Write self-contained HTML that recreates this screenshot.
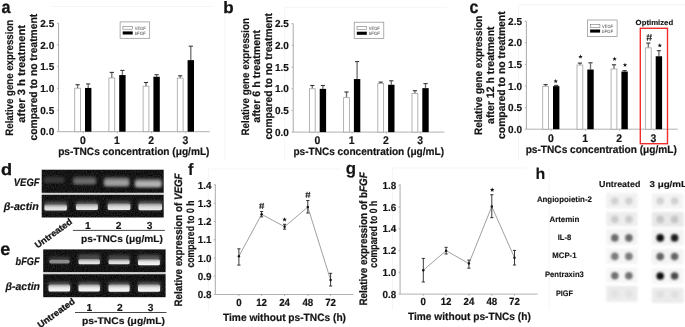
<!DOCTYPE html><html><head><meta charset="utf-8"><style>html,body{margin:0;padding:0;background:#fff;}svg{display:block;}text{font-family:"Liberation Sans",sans-serif;text-rendering:geometricPrecision;}text[font-weight="bold"]{stroke:#141414;stroke-linejoin:round;}</style></head><body>
<svg width="685" height="327" viewBox="0 0 685 327">
<defs><filter id="bl" x="-50%" y="-50%" width="200%" height="200%"><feGaussianBlur stdDeviation="1.2"/></filter><filter id="bl2" x="-50%" y="-50%" width="200%" height="200%"><feGaussianBlur stdDeviation="0.9"/></filter><filter id="gb" x="0" y="0" width="100%" height="100%" filterUnits="userSpaceOnUse" color-interpolation-filters="sRGB"><feGaussianBlur stdDeviation="0.35"/></filter><filter id="bh" x="-50%" y="-50%" width="200%" height="200%" color-interpolation-filters="sRGB"><feGaussianBlur stdDeviation="1.4"/></filter><filter id="bc" x="-50%" y="-50%" width="200%" height="200%" color-interpolation-filters="sRGB"><feGaussianBlur stdDeviation="0.7"/></filter><filter id="gn3" x="0" y="0" width="1" height="1" color-interpolation-filters="sRGB"><feTurbulence type="fractalNoise" baseFrequency="0.9" numOctaves="2" seed="3"/><feColorMatrix type="matrix" values="0.25 0 0 0 -0.045  0.25 0 0 0 -0.045  0.25 0 0 0 -0.045  0 0 0 0 1"/><feComposite in2="SourceGraphic" operator="in"/></filter><filter id="gn4" x="0" y="0" width="1" height="1" color-interpolation-filters="sRGB"><feTurbulence type="fractalNoise" baseFrequency="0.9" numOctaves="2" seed="4"/><feColorMatrix type="matrix" values="0.25 0 0 0 -0.045  0.25 0 0 0 -0.045  0.25 0 0 0 -0.045  0 0 0 0 1"/><feComposite in2="SourceGraphic" operator="in"/></filter><filter id="gn5" x="0" y="0" width="1" height="1" color-interpolation-filters="sRGB"><feTurbulence type="fractalNoise" baseFrequency="0.9" numOctaves="2" seed="5"/><feColorMatrix type="matrix" values="0.25 0 0 0 -0.045  0.25 0 0 0 -0.045  0.25 0 0 0 -0.045  0 0 0 0 1"/><feComposite in2="SourceGraphic" operator="in"/></filter><filter id="gn6" x="0" y="0" width="1" height="1" color-interpolation-filters="sRGB"><feTurbulence type="fractalNoise" baseFrequency="0.9" numOctaves="2" seed="6"/><feColorMatrix type="matrix" values="0.25 0 0 0 -0.045  0.25 0 0 0 -0.045  0.25 0 0 0 -0.045  0 0 0 0 1"/><feComposite in2="SourceGraphic" operator="in"/></filter><linearGradient id="cg" x1="0" y1="0" x2="0" y2="1"><stop offset="0" stop-color="#9a9a9a"/><stop offset="0.45" stop-color="#e6e6e6"/><stop offset="1" stop-color="#fbfbfb"/></linearGradient><linearGradient id="cg2" x1="0" y1="0" x2="0" y2="1"><stop offset="0" stop-color="#8a8a8a"/><stop offset="0.5" stop-color="#d6d6d6"/><stop offset="1" stop-color="#ececec"/></linearGradient><filter id="bl3" x="-50%" y="-50%" width="200%" height="200%"><feGaussianBlur stdDeviation="0.9"/></filter></defs>
<g filter="url(#gb)">
<rect width="685" height="327" fill="#fff"/>
<line x1="51" y1="6.5" x2="212" y2="6.5" stroke="#f4f4f4" stroke-width="0.9"/>
<line x1="224.8" y1="15" x2="224.8" y2="160" stroke="#f4f4f4" stroke-width="0.9"/>
<line x1="285" y1="7.3" x2="447" y2="7.3" stroke="#f4f4f4" stroke-width="0.9"/>
<line x1="284.6" y1="7.3" x2="284.6" y2="160" stroke="#f4f4f4" stroke-width="0.9"/>
<line x1="518.5" y1="4.8" x2="685" y2="4.8" stroke="#f4f4f4" stroke-width="0.9"/>
<line x1="518.5" y1="4.8" x2="518.5" y2="160" stroke="#f4f4f4" stroke-width="0.9"/>
<line x1="208.3" y1="169" x2="341" y2="169" stroke="#f4f4f4" stroke-width="0.9"/>
<line x1="208.3" y1="169" x2="208.3" y2="310" stroke="#f4f4f4" stroke-width="0.9"/>
<line x1="392.5" y1="168" x2="527" y2="168" stroke="#f4f4f4" stroke-width="0.9"/>
<line x1="392.5" y1="168" x2="392.5" y2="310" stroke="#f4f4f4" stroke-width="0.9"/>
<line x1="549.2" y1="169" x2="549.2" y2="310" stroke="#f4f4f4" stroke-width="0.9"/>
<line x1="58.6" y1="23.2" x2="58.6" y2="131.7" stroke="#a0a0a0" stroke-width="0.9"/>
<line x1="57.0" y1="131.7" x2="58.6" y2="131.7" stroke="#a0a0a0" stroke-width="0.8"/>
<text x="54.2" y="135.29999999999998" font-size="10.1" font-weight="bold" text-anchor="end" textLength="13.9" lengthAdjust="spacingAndGlyphs" fill="#141414" stroke-width="0.182">0.0</text>
<line x1="57.0" y1="110.0" x2="58.6" y2="110.0" stroke="#a0a0a0" stroke-width="0.8"/>
<text x="54.2" y="113.6" font-size="10.1" font-weight="bold" text-anchor="end" textLength="13.9" lengthAdjust="spacingAndGlyphs" fill="#141414" stroke-width="0.182">0.5</text>
<line x1="57.0" y1="88.3" x2="58.6" y2="88.3" stroke="#a0a0a0" stroke-width="0.8"/>
<text x="54.2" y="91.89999999999999" font-size="10.1" font-weight="bold" text-anchor="end" textLength="13.9" lengthAdjust="spacingAndGlyphs" fill="#141414" stroke-width="0.182">1.0</text>
<line x1="57.0" y1="66.6" x2="58.6" y2="66.6" stroke="#a0a0a0" stroke-width="0.8"/>
<text x="54.2" y="70.19999999999999" font-size="10.1" font-weight="bold" text-anchor="end" textLength="13.9" lengthAdjust="spacingAndGlyphs" fill="#141414" stroke-width="0.182">1.5</text>
<line x1="57.0" y1="44.900000000000006" x2="58.6" y2="44.900000000000006" stroke="#a0a0a0" stroke-width="0.8"/>
<text x="54.2" y="48.50000000000001" font-size="10.1" font-weight="bold" text-anchor="end" textLength="13.9" lengthAdjust="spacingAndGlyphs" fill="#141414" stroke-width="0.182">2.0</text>
<line x1="57.0" y1="23.200000000000017" x2="58.6" y2="23.200000000000017" stroke="#a0a0a0" stroke-width="0.8"/>
<text x="54.2" y="26.80000000000002" font-size="10.1" font-weight="bold" text-anchor="end" textLength="13.9" lengthAdjust="spacingAndGlyphs" fill="#141414" stroke-width="0.182">2.5</text>
<line x1="58.6" y1="131.7" x2="209.8" y2="131.7" stroke="#a8a8a8" stroke-width="0.9"/>
<line x1="83.2" y1="131.7" x2="83.2" y2="133.29999999999998" stroke="#a0a0a0" stroke-width="0.8"/>
<text x="82.8" y="143.9" font-size="11.0" font-weight="bold" text-anchor="middle" textLength="5.8" lengthAdjust="spacingAndGlyphs" fill="#141414" stroke-width="0.198">0</text>
<line x1="117.4" y1="131.7" x2="117.4" y2="133.29999999999998" stroke="#a0a0a0" stroke-width="0.8"/>
<text x="117.0" y="143.9" font-size="11.0" font-weight="bold" text-anchor="middle" textLength="5.8" lengthAdjust="spacingAndGlyphs" fill="#141414" stroke-width="0.198">1</text>
<line x1="151.6" y1="131.7" x2="151.6" y2="133.29999999999998" stroke="#a0a0a0" stroke-width="0.8"/>
<text x="151.2" y="143.9" font-size="11.0" font-weight="bold" text-anchor="middle" textLength="5.8" lengthAdjust="spacingAndGlyphs" fill="#141414" stroke-width="0.198">2</text>
<line x1="185.8" y1="131.7" x2="185.8" y2="133.29999999999998" stroke="#a0a0a0" stroke-width="0.8"/>
<text x="185.4" y="143.9" font-size="11.0" font-weight="bold" text-anchor="middle" textLength="5.8" lengthAdjust="spacingAndGlyphs" fill="#141414" stroke-width="0.198">3</text>
<line x1="77.6" y1="84.7" x2="77.6" y2="88.25" stroke="#6e6e6e" stroke-width="1.3"/>
<line x1="75.5" y1="84.7" x2="79.69999999999999" y2="84.7" stroke="#333" stroke-width="1.1"/>
<rect x="74.7" y="88.25" width="5.800000000000009" height="43.44999999999999" fill="#fff" stroke="#a6a6a6" stroke-width="0.85"/>
<line x1="88.2" y1="83.9" x2="88.2" y2="87.95" stroke="#6e6e6e" stroke-width="1.3"/>
<line x1="86.10000000000001" y1="83.9" x2="90.3" y2="83.9" stroke="#3a3a3a" stroke-width="1.1"/>
<rect x="85.0" y="87.95" width="6.400000000000006" height="43.749999999999986" fill="#000"/>
<line x1="111.80000000000001" y1="72.4" x2="111.80000000000001" y2="77.94999999999999" stroke="#6e6e6e" stroke-width="1.3"/>
<line x1="109.70000000000002" y1="72.4" x2="113.9" y2="72.4" stroke="#333" stroke-width="1.1"/>
<rect x="108.9" y="77.94999999999999" width="5.800000000000009" height="53.75" fill="#fff" stroke="#a6a6a6" stroke-width="0.85"/>
<line x1="122.4" y1="70.4" x2="122.4" y2="75.05" stroke="#6e6e6e" stroke-width="1.3"/>
<line x1="120.30000000000001" y1="70.4" x2="124.5" y2="70.4" stroke="#3a3a3a" stroke-width="1.1"/>
<rect x="119.2" y="75.05" width="6.400000000000006" height="56.64999999999999" fill="#000"/>
<line x1="146.0" y1="82.5" x2="146.0" y2="86.25" stroke="#6e6e6e" stroke-width="1.3"/>
<line x1="143.9" y1="82.5" x2="148.1" y2="82.5" stroke="#333" stroke-width="1.1"/>
<rect x="143.1" y="86.25" width="5.7999999999999945" height="45.44999999999999" fill="#fff" stroke="#a6a6a6" stroke-width="0.85"/>
<line x1="156.6" y1="74.7" x2="156.6" y2="76.75" stroke="#6e6e6e" stroke-width="1.3"/>
<line x1="154.5" y1="74.7" x2="158.7" y2="74.7" stroke="#3a3a3a" stroke-width="1.1"/>
<rect x="153.4" y="76.75" width="6.399999999999977" height="54.94999999999999" fill="#000"/>
<line x1="180.2" y1="75.80000000000001" x2="180.2" y2="78.14999999999999" stroke="#6e6e6e" stroke-width="1.3"/>
<line x1="178.1" y1="75.80000000000001" x2="182.29999999999998" y2="75.80000000000001" stroke="#333" stroke-width="1.1"/>
<rect x="177.3" y="78.14999999999999" width="5.7999999999999945" height="53.55" fill="#fff" stroke="#a6a6a6" stroke-width="0.85"/>
<line x1="190.8" y1="46.199999999999996" x2="190.8" y2="60.150000000000006" stroke="#6e6e6e" stroke-width="1.3"/>
<line x1="188.70000000000002" y1="46.199999999999996" x2="192.9" y2="46.199999999999996" stroke="#3a3a3a" stroke-width="1.1"/>
<rect x="187.60000000000002" y="60.150000000000006" width="6.399999999999977" height="71.54999999999998" fill="#000"/>
<rect x="120.1" y="21.9" width="29.6" height="16.4" fill="#fff" stroke="#8c8c8c" stroke-width="0.7"/>
<rect x="122.89999999999999" y="26.299999999999997" width="9.6" height="2.9" fill="#fff" stroke="#777" stroke-width="0.6"/>
<rect x="122.69999999999999" y="31.4" width="10" height="3.1" fill="#000"/>
<text x="134.7" y="29.7" font-size="4.6" font-weight="normal" text-anchor="start" textLength="11" lengthAdjust="spacingAndGlyphs" fill="#444">VEGF</text>
<text x="134.7" y="35.0" font-size="4.6" font-weight="normal" text-anchor="start" textLength="11" lengthAdjust="spacingAndGlyphs" fill="#444">bFGF</text>
<text x="58.2" y="154.8" font-size="10.6" font-weight="bold" text-anchor="start" textLength="151.3" lengthAdjust="spacingAndGlyphs" fill="#141414" stroke-width="0.191">ps-TNCs concentration (μg/mL)</text>
<text transform="translate(13.4,135.7) rotate(-90)" font-size="10.8" font-weight="bold" text-anchor="start" textLength="115.9" lengthAdjust="spacingAndGlyphs" fill="#141414" stroke-width="0.194">Relative gene expression</text>
<text transform="translate(25.3,122.7) rotate(-90)" font-size="10.8" font-weight="bold" text-anchor="start" textLength="97.7" lengthAdjust="spacingAndGlyphs" fill="#141414" stroke-width="0.194">after 3 h treatment</text>
<text transform="translate(37.3,140.4) rotate(-90)" font-size="10.8" font-weight="bold" text-anchor="start" textLength="126.5" lengthAdjust="spacingAndGlyphs" fill="#141414" stroke-width="0.194">compared to no treatment</text>
<text x="1.62" y="12.6" font-size="17.5" font-weight="bold" text-anchor="start" textLength="8.98" lengthAdjust="spacingAndGlyphs" fill="#141414" stroke-width="0.315" style="stroke-width:0.3px">a</text>
<line x1="293.2" y1="23.6" x2="293.2" y2="132.1" stroke="#a0a0a0" stroke-width="0.9"/>
<line x1="291.59999999999997" y1="132.1" x2="293.2" y2="132.1" stroke="#a0a0a0" stroke-width="0.8"/>
<text x="288.8" y="135.7" font-size="10.1" font-weight="bold" text-anchor="end" textLength="13.9" lengthAdjust="spacingAndGlyphs" fill="#141414" stroke-width="0.182">0.0</text>
<line x1="291.59999999999997" y1="110.39999999999999" x2="293.2" y2="110.39999999999999" stroke="#a0a0a0" stroke-width="0.8"/>
<text x="288.8" y="113.99999999999999" font-size="10.1" font-weight="bold" text-anchor="end" textLength="13.9" lengthAdjust="spacingAndGlyphs" fill="#141414" stroke-width="0.182">0.5</text>
<line x1="291.59999999999997" y1="88.69999999999999" x2="293.2" y2="88.69999999999999" stroke="#a0a0a0" stroke-width="0.8"/>
<text x="288.8" y="92.29999999999998" font-size="10.1" font-weight="bold" text-anchor="end" textLength="13.9" lengthAdjust="spacingAndGlyphs" fill="#141414" stroke-width="0.182">1.0</text>
<line x1="291.59999999999997" y1="67.0" x2="293.2" y2="67.0" stroke="#a0a0a0" stroke-width="0.8"/>
<text x="288.8" y="70.6" font-size="10.1" font-weight="bold" text-anchor="end" textLength="13.9" lengthAdjust="spacingAndGlyphs" fill="#141414" stroke-width="0.182">1.5</text>
<line x1="291.59999999999997" y1="45.3" x2="293.2" y2="45.3" stroke="#a0a0a0" stroke-width="0.8"/>
<text x="288.8" y="48.9" font-size="10.1" font-weight="bold" text-anchor="end" textLength="13.9" lengthAdjust="spacingAndGlyphs" fill="#141414" stroke-width="0.182">2.0</text>
<line x1="291.59999999999997" y1="23.599999999999994" x2="293.2" y2="23.599999999999994" stroke="#a0a0a0" stroke-width="0.8"/>
<text x="288.8" y="27.199999999999996" font-size="10.1" font-weight="bold" text-anchor="end" textLength="13.9" lengthAdjust="spacingAndGlyphs" fill="#141414" stroke-width="0.182">2.5</text>
<line x1="293.2" y1="132.1" x2="444.4" y2="132.1" stroke="#a8a8a8" stroke-width="0.9"/>
<line x1="317.9" y1="132.1" x2="317.9" y2="133.7" stroke="#a0a0a0" stroke-width="0.8"/>
<text x="317.5" y="144.2" font-size="11.0" font-weight="bold" text-anchor="middle" textLength="5.8" lengthAdjust="spacingAndGlyphs" fill="#141414" stroke-width="0.198">0</text>
<line x1="352.1" y1="132.1" x2="352.1" y2="133.7" stroke="#a0a0a0" stroke-width="0.8"/>
<text x="351.70000000000005" y="144.2" font-size="11.0" font-weight="bold" text-anchor="middle" textLength="5.8" lengthAdjust="spacingAndGlyphs" fill="#141414" stroke-width="0.198">1</text>
<line x1="386.3" y1="132.1" x2="386.3" y2="133.7" stroke="#a0a0a0" stroke-width="0.8"/>
<text x="385.90000000000003" y="144.2" font-size="11.0" font-weight="bold" text-anchor="middle" textLength="5.8" lengthAdjust="spacingAndGlyphs" fill="#141414" stroke-width="0.198">2</text>
<line x1="420.5" y1="132.1" x2="420.5" y2="133.7" stroke="#a0a0a0" stroke-width="0.8"/>
<text x="420.1" y="144.2" font-size="11.0" font-weight="bold" text-anchor="middle" textLength="5.8" lengthAdjust="spacingAndGlyphs" fill="#141414" stroke-width="0.198">3</text>
<line x1="312.29999999999995" y1="85.5" x2="312.29999999999995" y2="88.75" stroke="#6e6e6e" stroke-width="1.3"/>
<line x1="310.19999999999993" y1="85.5" x2="314.4" y2="85.5" stroke="#333" stroke-width="1.1"/>
<rect x="309.4" y="88.75" width="5.799999999999966" height="43.349999999999994" fill="#fff" stroke="#a6a6a6" stroke-width="0.85"/>
<line x1="322.9" y1="85.5" x2="322.9" y2="88.85000000000001" stroke="#6e6e6e" stroke-width="1.3"/>
<line x1="320.79999999999995" y1="85.5" x2="325.0" y2="85.5" stroke="#3a3a3a" stroke-width="1.1"/>
<rect x="319.7" y="88.85000000000001" width="6.399999999999977" height="43.249999999999986" fill="#000"/>
<line x1="346.5" y1="92.0" x2="346.5" y2="97.64999999999999" stroke="#6e6e6e" stroke-width="1.3"/>
<line x1="344.4" y1="92.0" x2="348.6" y2="92.0" stroke="#333" stroke-width="1.1"/>
<rect x="343.6" y="97.64999999999999" width="5.799999999999966" height="34.45" fill="#fff" stroke="#a6a6a6" stroke-width="0.85"/>
<line x1="357.1" y1="61.6" x2="357.1" y2="79.05" stroke="#6e6e6e" stroke-width="1.3"/>
<line x1="355.0" y1="61.6" x2="359.20000000000005" y2="61.6" stroke="#3a3a3a" stroke-width="1.1"/>
<rect x="353.90000000000003" y="79.05" width="6.399999999999977" height="53.05" fill="#000"/>
<line x1="380.70000000000005" y1="82.10000000000001" x2="380.70000000000005" y2="83.55" stroke="#6e6e6e" stroke-width="1.3"/>
<line x1="378.6" y1="82.10000000000001" x2="382.80000000000007" y2="82.10000000000001" stroke="#333" stroke-width="1.1"/>
<rect x="377.8" y="83.55" width="5.799999999999966" height="48.55" fill="#fff" stroke="#a6a6a6" stroke-width="0.85"/>
<line x1="391.3" y1="80.80000000000001" x2="391.3" y2="84.75" stroke="#6e6e6e" stroke-width="1.3"/>
<line x1="389.2" y1="80.80000000000001" x2="393.40000000000003" y2="80.80000000000001" stroke="#3a3a3a" stroke-width="1.1"/>
<rect x="388.1" y="84.75" width="6.399999999999977" height="47.349999999999994" fill="#000"/>
<line x1="414.9" y1="90.7" x2="414.9" y2="93.44999999999999" stroke="#6e6e6e" stroke-width="1.3"/>
<line x1="412.79999999999995" y1="90.7" x2="417.0" y2="90.7" stroke="#333" stroke-width="1.1"/>
<rect x="412.0" y="93.44999999999999" width="5.799999999999966" height="38.650000000000006" fill="#fff" stroke="#a6a6a6" stroke-width="0.85"/>
<line x1="425.5" y1="83.60000000000001" x2="425.5" y2="88.15" stroke="#6e6e6e" stroke-width="1.3"/>
<line x1="423.4" y1="83.60000000000001" x2="427.6" y2="83.60000000000001" stroke="#3a3a3a" stroke-width="1.1"/>
<rect x="422.3" y="88.15" width="6.399999999999977" height="43.94999999999999" fill="#000"/>
<rect x="354.2" y="22.2" width="29.6" height="16.4" fill="#fff" stroke="#8c8c8c" stroke-width="0.7"/>
<rect x="357.0" y="26.6" width="9.6" height="2.9" fill="#fff" stroke="#777" stroke-width="0.6"/>
<rect x="356.8" y="31.7" width="10" height="3.1" fill="#000"/>
<text x="368.8" y="30.0" font-size="4.6" font-weight="normal" text-anchor="start" textLength="11" lengthAdjust="spacingAndGlyphs" fill="#444">VEGF</text>
<text x="368.8" y="35.3" font-size="4.6" font-weight="normal" text-anchor="start" textLength="11" lengthAdjust="spacingAndGlyphs" fill="#444">bFGF</text>
<text x="293.4" y="155.2" font-size="10.6" font-weight="bold" text-anchor="start" textLength="150.60000000000002" lengthAdjust="spacingAndGlyphs" fill="#141414" stroke-width="0.191">ps-TNCs concentration (μg/mL)</text>
<text transform="translate(248.7,135.6) rotate(-90)" font-size="10.8" font-weight="bold" text-anchor="start" textLength="117.6" lengthAdjust="spacingAndGlyphs" fill="#141414" stroke-width="0.194">Relative gene expression</text>
<text transform="translate(259.9,122.7) rotate(-90)" font-size="10.8" font-weight="bold" text-anchor="start" textLength="92.8" lengthAdjust="spacingAndGlyphs" fill="#141414" stroke-width="0.194">after 6 h treatment</text>
<text transform="translate(271.9,139.6) rotate(-90)" font-size="10.8" font-weight="bold" text-anchor="start" textLength="126.6" lengthAdjust="spacingAndGlyphs" fill="#141414" stroke-width="0.194">compared to no treatment</text>
<text x="223.19" y="12.8" font-size="16.5" font-weight="bold" text-anchor="start" textLength="10.4" lengthAdjust="spacingAndGlyphs" fill="#141414" stroke-width="0.297" style="stroke-width:0.3px">b</text>
<line x1="526.4" y1="21.2" x2="526.4" y2="129.2" stroke="#a0a0a0" stroke-width="0.9"/>
<line x1="524.8" y1="129.2" x2="526.4" y2="129.2" stroke="#a0a0a0" stroke-width="0.8"/>
<text x="522.0" y="132.79999999999998" font-size="10.1" font-weight="bold" text-anchor="end" textLength="13.9" lengthAdjust="spacingAndGlyphs" fill="#141414" stroke-width="0.182">0.0</text>
<line x1="524.8" y1="107.6" x2="526.4" y2="107.6" stroke="#a0a0a0" stroke-width="0.8"/>
<text x="522.0" y="111.19999999999999" font-size="10.1" font-weight="bold" text-anchor="end" textLength="13.9" lengthAdjust="spacingAndGlyphs" fill="#141414" stroke-width="0.182">0.5</text>
<line x1="524.8" y1="86.0" x2="526.4" y2="86.0" stroke="#a0a0a0" stroke-width="0.8"/>
<text x="522.0" y="89.6" font-size="10.1" font-weight="bold" text-anchor="end" textLength="13.9" lengthAdjust="spacingAndGlyphs" fill="#141414" stroke-width="0.182">1.0</text>
<line x1="524.8" y1="64.39999999999999" x2="526.4" y2="64.39999999999999" stroke="#a0a0a0" stroke-width="0.8"/>
<text x="522.0" y="67.99999999999999" font-size="10.1" font-weight="bold" text-anchor="end" textLength="13.9" lengthAdjust="spacingAndGlyphs" fill="#141414" stroke-width="0.182">1.5</text>
<line x1="524.8" y1="42.8" x2="526.4" y2="42.8" stroke="#a0a0a0" stroke-width="0.8"/>
<text x="522.0" y="46.4" font-size="10.1" font-weight="bold" text-anchor="end" textLength="13.9" lengthAdjust="spacingAndGlyphs" fill="#141414" stroke-width="0.182">2.0</text>
<line x1="524.8" y1="21.200000000000003" x2="526.4" y2="21.200000000000003" stroke="#a0a0a0" stroke-width="0.8"/>
<text x="522.0" y="24.800000000000004" font-size="10.1" font-weight="bold" text-anchor="end" textLength="13.9" lengthAdjust="spacingAndGlyphs" fill="#141414" stroke-width="0.182">2.5</text>
<line x1="526.4" y1="129.2" x2="677.7" y2="129.2" stroke="#a8a8a8" stroke-width="0.9"/>
<line x1="551.2" y1="129.2" x2="551.2" y2="130.79999999999998" stroke="#a0a0a0" stroke-width="0.8"/>
<text x="550.8000000000001" y="141.8" font-size="11.0" font-weight="bold" text-anchor="middle" textLength="5.8" lengthAdjust="spacingAndGlyphs" fill="#141414" stroke-width="0.198">0</text>
<line x1="585.5" y1="129.2" x2="585.5" y2="130.79999999999998" stroke="#a0a0a0" stroke-width="0.8"/>
<text x="585.1" y="141.8" font-size="11.0" font-weight="bold" text-anchor="middle" textLength="5.8" lengthAdjust="spacingAndGlyphs" fill="#141414" stroke-width="0.198">1</text>
<line x1="619.6" y1="129.2" x2="619.6" y2="130.79999999999998" stroke="#a0a0a0" stroke-width="0.8"/>
<text x="619.2" y="141.8" font-size="11.0" font-weight="bold" text-anchor="middle" textLength="5.8" lengthAdjust="spacingAndGlyphs" fill="#141414" stroke-width="0.198">2</text>
<line x1="653.9" y1="129.2" x2="653.9" y2="130.79999999999998" stroke="#a0a0a0" stroke-width="0.8"/>
<text x="653.5" y="141.8" font-size="11.0" font-weight="bold" text-anchor="middle" textLength="5.8" lengthAdjust="spacingAndGlyphs" fill="#141414" stroke-width="0.198">3</text>
<line x1="545.6000000000001" y1="84.60000000000001" x2="545.6000000000001" y2="86.35" stroke="#6e6e6e" stroke-width="1.3"/>
<line x1="543.5000000000001" y1="84.60000000000001" x2="547.7000000000002" y2="84.60000000000001" stroke="#333" stroke-width="1.1"/>
<rect x="542.7" y="86.35" width="5.800000000000023" height="42.849999999999994" fill="#fff" stroke="#a6a6a6" stroke-width="0.85"/>
<line x1="556.2" y1="85.4" x2="556.2" y2="86.15" stroke="#6e6e6e" stroke-width="1.3"/>
<line x1="554.1" y1="85.4" x2="558.3000000000001" y2="85.4" stroke="#3a3a3a" stroke-width="1.1"/>
<rect x="553.0" y="86.15" width="6.400000000000091" height="43.04999999999998" fill="#000"/>
<line x1="579.9000000000001" y1="63.1" x2="579.9000000000001" y2="65.05" stroke="#6e6e6e" stroke-width="1.3"/>
<line x1="577.8000000000001" y1="63.1" x2="582.0000000000001" y2="63.1" stroke="#333" stroke-width="1.1"/>
<rect x="577.0" y="65.05" width="5.800000000000023" height="64.14999999999999" fill="#fff" stroke="#a6a6a6" stroke-width="0.85"/>
<line x1="590.5" y1="62.8" x2="590.5" y2="69.55" stroke="#6e6e6e" stroke-width="1.3"/>
<line x1="588.4" y1="62.8" x2="592.6" y2="62.8" stroke="#3a3a3a" stroke-width="1.1"/>
<rect x="587.3" y="69.55" width="6.400000000000091" height="59.64999999999999" fill="#000"/>
<line x1="614.0" y1="64.80000000000001" x2="614.0" y2="68.94999999999999" stroke="#6e6e6e" stroke-width="1.3"/>
<line x1="611.9" y1="64.80000000000001" x2="616.1" y2="64.80000000000001" stroke="#333" stroke-width="1.1"/>
<rect x="611.1" y="68.94999999999999" width="5.800000000000023" height="60.25" fill="#fff" stroke="#a6a6a6" stroke-width="0.85"/>
<line x1="624.6" y1="70.60000000000001" x2="624.6" y2="71.55" stroke="#6e6e6e" stroke-width="1.3"/>
<line x1="622.5" y1="70.60000000000001" x2="626.7" y2="70.60000000000001" stroke="#3a3a3a" stroke-width="1.1"/>
<rect x="621.4" y="71.55" width="6.400000000000091" height="57.64999999999999" fill="#000"/>
<line x1="648.3" y1="43.1" x2="648.3" y2="47.85" stroke="#6e6e6e" stroke-width="1.3"/>
<line x1="646.1999999999999" y1="43.1" x2="650.4" y2="43.1" stroke="#333" stroke-width="1.1"/>
<rect x="645.4" y="47.85" width="5.800000000000023" height="81.35" fill="#fff" stroke="#a6a6a6" stroke-width="0.85"/>
<line x1="658.9" y1="50.699999999999996" x2="658.9" y2="56.25" stroke="#6e6e6e" stroke-width="1.3"/>
<line x1="656.8" y1="50.699999999999996" x2="661.0" y2="50.699999999999996" stroke="#3a3a3a" stroke-width="1.1"/>
<rect x="655.6999999999999" y="56.25" width="6.400000000000091" height="72.94999999999999" fill="#000"/>
<rect x="587.5" y="20.0" width="29.6" height="16.4" fill="#fff" stroke="#8c8c8c" stroke-width="0.7"/>
<rect x="590.3" y="24.4" width="9.6" height="2.9" fill="#fff" stroke="#777" stroke-width="0.6"/>
<rect x="590.1" y="29.5" width="10" height="3.1" fill="#000"/>
<text x="602.1" y="27.8" font-size="4.6" font-weight="normal" text-anchor="start" textLength="11" lengthAdjust="spacingAndGlyphs" fill="#444">VEGF</text>
<text x="602.1" y="33.1" font-size="4.6" font-weight="normal" text-anchor="start" textLength="11" lengthAdjust="spacingAndGlyphs" fill="#444">bFGF</text>
<text x="525.7" y="153.4" font-size="10.6" font-weight="bold" text-anchor="start" textLength="151.0999999999999" lengthAdjust="spacingAndGlyphs" fill="#141414" stroke-width="0.191">ps-TNCs concentration (μg/mL)</text>
<text transform="translate(482.3,134.9) rotate(-90)" font-size="10.8" font-weight="bold" text-anchor="start" textLength="119.2" lengthAdjust="spacingAndGlyphs" fill="#141414" stroke-width="0.194">Relative gene expression</text>
<text transform="translate(494.0,123.9) rotate(-90)" font-size="10.8" font-weight="bold" text-anchor="start" textLength="97.5" lengthAdjust="spacingAndGlyphs" fill="#141414" stroke-width="0.194">after 12 h treatment</text>
<text transform="translate(505.4,138.9) rotate(-90)" font-size="10.8" font-weight="bold" text-anchor="start" textLength="127.5" lengthAdjust="spacingAndGlyphs" fill="#141414" stroke-width="0.194">compared to no treatment</text>
<text x="469.56" y="12.7" font-size="17.8" font-weight="bold" text-anchor="start" textLength="8.9" lengthAdjust="spacingAndGlyphs" fill="#141414" stroke-width="0.320" style="stroke-width:0.3px">c</text>
<polygon points="555.70,78.95 556.29,80.44 557.89,80.54 556.65,81.56 557.05,83.11 555.70,82.25 554.35,83.11 554.75,81.56 553.51,80.54 555.11,80.44" fill="#161616"/>
<polygon points="580.50,54.45 581.09,55.94 582.69,56.04 581.45,57.06 581.85,58.61 580.50,57.75 579.15,58.61 579.55,57.06 578.31,56.04 579.91,55.94" fill="#161616"/>
<polygon points="614.60,56.65 615.19,58.14 616.79,58.24 615.55,59.26 615.95,60.81 614.60,59.95 613.25,60.81 613.65,59.26 612.41,58.24 614.01,58.14" fill="#161616"/>
<polygon points="625.00,62.65 625.59,64.14 627.19,64.24 625.95,65.26 626.35,66.81 625.00,65.95 623.65,66.81 624.05,65.26 622.81,64.24 624.41,64.14" fill="#161616"/>
<polygon points="659.80,43.15 660.39,44.64 661.99,44.74 660.75,45.76 661.15,47.31 659.80,46.45 658.45,47.31 658.85,45.76 657.61,44.74 659.21,44.64" fill="#161616"/>
<path d="M648.356,34.0L647.356,40.8M651.0440000000001,34.0L650.0440000000001,40.8M646.4000000000001,36.108H652.0M646.4000000000001,38.692H652.0" stroke="#1a1a1a" stroke-width="0.85" fill="none"/>
<rect x="640.3" y="28.3" width="27.2" height="115.4" fill="none" stroke="#f22c2c" stroke-width="1.4"/>
<text x="635.6" y="25.4" font-size="7.4" font-weight="bold" text-anchor="start" textLength="37.6" lengthAdjust="spacingAndGlyphs" fill="#141414" stroke-width="0.133">Optimized</text>
<rect x="41.7" y="192.8" width="121.99999999999999" height="2.0" fill="#d4d4d4"/>
<rect x="41.7" y="169.7" width="121.99999999999999" height="23.100000000000023" fill="#000" filter="url(#gn3)"/>
<rect x="41.7" y="194.8" width="121.99999999999999" height="22.69999999999999" fill="#000" filter="url(#gn4)"/>
<clipPath id="cp3"><rect x="41.7" y="169.7" width="121.99999999999999" height="23.100000000000023"/><rect x="41.7" y="194.8" width="121.99999999999999" height="22.69999999999999"/></clipPath>
<g clip-path="url(#cp3)">
<rect x="44" y="176.5" width="20.5" height="6.0" rx="2" fill="#2e2e2e" filter="url(#bh)"/>
<rect x="44.4" y="178.5" width="19.7" height="4.0" rx="1.6" fill="#3c3c3c" filter="url(#bh)"/>
<rect x="73.2" y="176.5" width="22.799999999999997" height="7.5" rx="2" fill="#4a4a4a" filter="url(#bh)"/>
<rect x="73.60000000000001" y="179.0" width="21.999999999999996" height="5.0" rx="1.6" fill="#6e6e6e" filter="url(#bh)"/>
<rect x="104" y="177.0" width="25.19999999999999" height="9.0" rx="2" fill="#5a5a5a" filter="url(#bh)"/>
<rect x="104.4" y="179.5" width="24.399999999999988" height="6.5" rx="1.6" fill="#a0a0a0" filter="url(#bh)"/>
<rect x="134.9" y="178.5" width="26.69999999999999" height="8.5" rx="2" fill="#666" filter="url(#bh)"/>
<rect x="135.3" y="181.0" width="25.899999999999988" height="6.0" rx="1.6" fill="#b4b4b4" filter="url(#bh)"/>
<rect x="44" y="201.8" width="23.299999999999997" height="8.799999999999983" rx="2" fill="#5a5a5a" filter="url(#bh)"/>
<rect x="44.4" y="204.4" width="22.499999999999996" height="6.199999999999989" rx="1.6" fill="url(#cg2)" filter="url(#bc)"/>
<rect x="75.6" y="201.5" width="22.700000000000003" height="8.5" rx="2" fill="#555" filter="url(#bh)"/>
<rect x="76.0" y="203.8" width="21.900000000000002" height="6.199999999999989" rx="1.6" fill="url(#cg2)" filter="url(#bc)"/>
<rect x="107.3" y="201.0" width="23.500000000000014" height="9.0" rx="2" fill="#555" filter="url(#bh)"/>
<rect x="107.7" y="203.4" width="22.700000000000014" height="6.599999999999994" rx="1.6" fill="url(#cg2)" filter="url(#bc)"/>
<rect x="138.1" y="201.0" width="24.30000000000001" height="9.199999999999989" rx="2" fill="#5a5a5a" filter="url(#bh)"/>
<rect x="138.5" y="203.4" width="23.50000000000001" height="6.799999999999983" rx="1.6" fill="url(#cg2)" filter="url(#bc)"/>
</g>
<rect x="43.2" y="272.1" width="122.39999999999999" height="2.099999999999966" fill="#d4d4d4"/>
<rect x="43.2" y="249.4" width="122.39999999999999" height="22.700000000000017" fill="#000" filter="url(#gn5)"/>
<rect x="43.2" y="274.2" width="122.39999999999999" height="23.0" fill="#000" filter="url(#gn6)"/>
<clipPath id="cp5"><rect x="43.2" y="249.4" width="122.39999999999999" height="22.700000000000017"/><rect x="43.2" y="274.2" width="122.39999999999999" height="23.0"/></clipPath>
<g clip-path="url(#cp5)">
<rect x="48.9" y="256.5" width="21.1" height="6.899999999999977" rx="2" fill="#3a3a3a" filter="url(#bh)"/>
<rect x="49.3" y="259.8" width="20.3" height="3.599999999999966" rx="1.6" fill="#8c8c8c" filter="url(#bc)"/>
<rect x="78.1" y="254.3" width="22.200000000000003" height="10.0" rx="2" fill="#4a4a4a" filter="url(#bh)"/>
<rect x="78.5" y="258.9" width="21.400000000000002" height="5.400000000000034" rx="1.6" fill="url(#cg2)" filter="url(#bc)"/>
<rect x="108.1" y="255.0" width="21.900000000000006" height="9.300000000000011" rx="2" fill="#484848" filter="url(#bh)"/>
<rect x="108.5" y="259.2" width="21.100000000000005" height="5.100000000000023" rx="1.6" fill="url(#cg2)" filter="url(#bc)"/>
<rect x="137.6" y="255.1" width="22.700000000000017" height="10.200000000000017" rx="2" fill="#555" filter="url(#bh)"/>
<rect x="138.0" y="259.2" width="21.900000000000016" height="6.100000000000023" rx="1.6" fill="url(#cg)" filter="url(#bc)"/>
<rect x="48.1" y="282.0" width="22.4" height="9.600000000000023" rx="2" fill="#5a5a5a" filter="url(#bh)"/>
<rect x="48.5" y="284.6" width="21.599999999999998" height="7.0" rx="1.6" fill="url(#cg)" filter="url(#bc)"/>
<rect x="78.1" y="282.0" width="22.200000000000003" height="9.600000000000023" rx="2" fill="#5a5a5a" filter="url(#bh)"/>
<rect x="78.5" y="284.6" width="21.400000000000002" height="7.0" rx="1.6" fill="url(#cg)" filter="url(#bc)"/>
<rect x="108.1" y="282.0" width="21.900000000000006" height="9.800000000000011" rx="2" fill="#5a5a5a" filter="url(#bh)"/>
<rect x="108.5" y="284.6" width="21.100000000000005" height="7.199999999999989" rx="1.6" fill="url(#cg)" filter="url(#bc)"/>
<rect x="137.6" y="282.0" width="22.900000000000006" height="9.800000000000011" rx="2" fill="#5a5a5a" filter="url(#bh)"/>
<rect x="138.0" y="284.6" width="22.100000000000005" height="7.199999999999989" rx="1.6" fill="url(#cg)" filter="url(#bc)"/>
</g>
<text x="13.8" y="185.8" font-size="10.8" font-weight="bold" text-anchor="start" font-style="italic" textLength="25.7" lengthAdjust="spacingAndGlyphs" fill="#141414" stroke-width="0.194">VEGF</text>
<text x="3.7" y="210.1" font-size="10.8" font-weight="bold" text-anchor="start" font-style="italic" textLength="35.2" lengthAdjust="spacingAndGlyphs" fill="#141414" stroke-width="0.194">β-actin</text>
<text x="15.6" y="264.9" font-size="10.8" font-weight="bold" text-anchor="start" font-style="italic" textLength="23.9" lengthAdjust="spacingAndGlyphs" fill="#141414" stroke-width="0.194">bFGF</text>
<text x="5.5" y="289.7" font-size="10.8" font-weight="bold" text-anchor="start" font-style="italic" textLength="34.5" lengthAdjust="spacingAndGlyphs" fill="#141414" stroke-width="0.194">β-actin</text>
<text x="1.07" y="175.4" font-size="16.5" font-weight="bold" text-anchor="start" textLength="11.13" lengthAdjust="spacingAndGlyphs" fill="#141414" stroke-width="0.297" style="stroke-width:0.3px">d</text>
<text x="0.18" y="255.2" font-size="17.8" font-weight="bold" text-anchor="start" textLength="10.03" lengthAdjust="spacingAndGlyphs" fill="#141414" stroke-width="0.320" style="stroke-width:0.3px">e</text>
<text x="87.8" y="228.9" font-size="10.2" font-weight="bold" text-anchor="middle" fill="#141414" stroke-width="0.184">1</text>
<text x="118.5" y="228.9" font-size="10.2" font-weight="bold" text-anchor="middle" fill="#141414" stroke-width="0.184">2</text>
<text x="149.6" y="228.9" font-size="10.2" font-weight="bold" text-anchor="middle" fill="#141414" stroke-width="0.184">3</text>
<line x1="72.9" y1="230.4" x2="164.9" y2="230.4" stroke="#333" stroke-width="0.9"/>
<text x="81.1" y="242.3" font-size="9.6" font-weight="bold" text-anchor="start" textLength="81.7" lengthAdjust="spacingAndGlyphs" fill="#141414" stroke-width="0.173">ps-TNCs (μg/mL)</text>
<text transform="translate(37.6,248.6) rotate(-36)" font-size="8.9" font-weight="bold" fill="#141414" stroke-width="0.28" textLength="43.6" lengthAdjust="spacingAndGlyphs">Untreated</text>
<text x="89.3" y="310.5" font-size="10.2" font-weight="bold" text-anchor="middle" fill="#141414" stroke-width="0.184">1</text>
<text x="119.9" y="310.5" font-size="10.2" font-weight="bold" text-anchor="middle" fill="#141414" stroke-width="0.184">2</text>
<text x="150.6" y="310.5" font-size="10.2" font-weight="bold" text-anchor="middle" fill="#141414" stroke-width="0.184">3</text>
<line x1="75.0" y1="312.5" x2="166.5" y2="312.5" stroke="#333" stroke-width="0.9"/>
<text x="82.1" y="323.7" font-size="9.6" font-weight="bold" text-anchor="start" textLength="82.8" lengthAdjust="spacingAndGlyphs" fill="#141414" stroke-width="0.173">ps-TNCs (μg/mL)</text>
<text transform="translate(40.3,328.2) rotate(-36)" font-size="8.9" font-weight="bold" fill="#141414" stroke-width="0.28" textLength="43.6" lengthAdjust="spacingAndGlyphs">Untreated</text>
<line x1="215.3" y1="184.3" x2="215.3" y2="294.5" stroke="#a0a0a0" stroke-width="0.9"/>
<line x1="213.70000000000002" y1="185.0" x2="215.3" y2="185.0" stroke="#a0a0a0" stroke-width="0.8"/>
<text x="211.5" y="188.6" font-size="10.1" font-weight="bold" text-anchor="end" textLength="13.7" lengthAdjust="spacingAndGlyphs" fill="#141414" stroke-width="0.182">1.4</text>
<line x1="213.70000000000002" y1="203.2" x2="215.3" y2="203.2" stroke="#a0a0a0" stroke-width="0.8"/>
<text x="211.5" y="206.79999999999998" font-size="10.1" font-weight="bold" text-anchor="end" textLength="13.7" lengthAdjust="spacingAndGlyphs" fill="#141414" stroke-width="0.182">1.3</text>
<line x1="213.70000000000002" y1="221.5" x2="215.3" y2="221.5" stroke="#a0a0a0" stroke-width="0.8"/>
<text x="211.5" y="225.1" font-size="10.1" font-weight="bold" text-anchor="end" textLength="13.7" lengthAdjust="spacingAndGlyphs" fill="#141414" stroke-width="0.182">1.2</text>
<line x1="213.70000000000002" y1="239.8" x2="215.3" y2="239.8" stroke="#a0a0a0" stroke-width="0.8"/>
<text x="211.5" y="243.4" font-size="10.1" font-weight="bold" text-anchor="end" textLength="13.7" lengthAdjust="spacingAndGlyphs" fill="#141414" stroke-width="0.182">1.1</text>
<line x1="213.70000000000002" y1="258.0" x2="215.3" y2="258.0" stroke="#a0a0a0" stroke-width="0.8"/>
<text x="211.5" y="261.6" font-size="10.1" font-weight="bold" text-anchor="end" textLength="13.7" lengthAdjust="spacingAndGlyphs" fill="#141414" stroke-width="0.182">1.0</text>
<line x1="213.70000000000002" y1="276.2" x2="215.3" y2="276.2" stroke="#a0a0a0" stroke-width="0.8"/>
<text x="211.5" y="279.8" font-size="10.1" font-weight="bold" text-anchor="end" textLength="13.7" lengthAdjust="spacingAndGlyphs" fill="#141414" stroke-width="0.182">0.9</text>
<line x1="213.70000000000002" y1="294.5" x2="215.3" y2="294.5" stroke="#a0a0a0" stroke-width="0.8"/>
<text x="211.5" y="298.1" font-size="10.1" font-weight="bold" text-anchor="end" textLength="13.7" lengthAdjust="spacingAndGlyphs" fill="#141414" stroke-width="0.182">0.8</text>
<line x1="215.3" y1="294.5" x2="353.5" y2="294.5" stroke="#a8a8a8" stroke-width="0.9"/>
<line x1="238.9" y1="294.5" x2="238.9" y2="296.1" stroke="#a0a0a0" stroke-width="0.8"/>
<text x="238.9" y="305.59999999999997" font-size="10.4" font-weight="bold" text-anchor="middle" textLength="5.39" lengthAdjust="spacingAndGlyphs" fill="#141414" stroke-width="0.187">0</text>
<line x1="261.6" y1="294.5" x2="261.6" y2="296.1" stroke="#a0a0a0" stroke-width="0.8"/>
<text x="261.6" y="305.59999999999997" font-size="10.4" font-weight="bold" text-anchor="middle" textLength="10.79" lengthAdjust="spacingAndGlyphs" fill="#141414" stroke-width="0.187">12</text>
<line x1="284.6" y1="294.5" x2="284.6" y2="296.1" stroke="#a0a0a0" stroke-width="0.8"/>
<text x="284.6" y="305.59999999999997" font-size="10.4" font-weight="bold" text-anchor="middle" textLength="10.79" lengthAdjust="spacingAndGlyphs" fill="#141414" stroke-width="0.187">24</text>
<line x1="307.8" y1="294.5" x2="307.8" y2="296.1" stroke="#a0a0a0" stroke-width="0.8"/>
<text x="307.8" y="305.59999999999997" font-size="10.4" font-weight="bold" text-anchor="middle" textLength="10.79" lengthAdjust="spacingAndGlyphs" fill="#141414" stroke-width="0.187">48</text>
<line x1="330.6" y1="294.5" x2="330.6" y2="296.1" stroke="#a0a0a0" stroke-width="0.8"/>
<text x="330.6" y="305.59999999999997" font-size="10.4" font-weight="bold" text-anchor="middle" textLength="10.79" lengthAdjust="spacingAndGlyphs" fill="#141414" stroke-width="0.187">72</text>
<path d="M238.9,256.3 L261.6,214.3 L284.6,226.7 L307.8,207.0 L330.6,280.0" fill="none" stroke="#777" stroke-width="0.7"/>
<line x1="238.9" y1="248.8" x2="238.9" y2="265.1" stroke="#222" stroke-width="0.9"/>
<line x1="237.3" y1="248.8" x2="240.5" y2="248.8" stroke="#222" stroke-width="0.9"/>
<line x1="237.3" y1="265.1" x2="240.5" y2="265.1" stroke="#222" stroke-width="0.9"/>
<circle cx="238.9" cy="256.3" r="1.2" fill="#111"/>
<line x1="261.6" y1="211.5" x2="261.6" y2="216.9" stroke="#222" stroke-width="0.9"/>
<line x1="260.0" y1="211.5" x2="263.20000000000005" y2="211.5" stroke="#222" stroke-width="0.9"/>
<line x1="260.0" y1="216.9" x2="263.20000000000005" y2="216.9" stroke="#222" stroke-width="0.9"/>
<circle cx="261.6" cy="214.3" r="1.2" fill="#111"/>
<line x1="284.6" y1="224.3" x2="284.6" y2="229.2" stroke="#222" stroke-width="0.9"/>
<line x1="283.0" y1="224.3" x2="286.20000000000005" y2="224.3" stroke="#222" stroke-width="0.9"/>
<line x1="283.0" y1="229.2" x2="286.20000000000005" y2="229.2" stroke="#222" stroke-width="0.9"/>
<circle cx="284.6" cy="226.7" r="1.2" fill="#111"/>
<line x1="307.8" y1="200.5" x2="307.8" y2="213.0" stroke="#222" stroke-width="0.9"/>
<line x1="306.2" y1="200.5" x2="309.40000000000003" y2="200.5" stroke="#222" stroke-width="0.9"/>
<line x1="306.2" y1="213.0" x2="309.40000000000003" y2="213.0" stroke="#222" stroke-width="0.9"/>
<circle cx="307.8" cy="207.0" r="1.2" fill="#111"/>
<line x1="330.6" y1="273.3" x2="330.6" y2="286.0" stroke="#222" stroke-width="0.9"/>
<line x1="329.0" y1="273.3" x2="332.20000000000005" y2="273.3" stroke="#222" stroke-width="0.9"/>
<line x1="329.0" y1="286.0" x2="332.20000000000005" y2="286.0" stroke="#222" stroke-width="0.9"/>
<circle cx="330.6" cy="280.0" r="1.2" fill="#111"/>
<text x="223.0" y="320.7" font-size="10.6" font-weight="bold" text-anchor="start" textLength="123.0" lengthAdjust="spacingAndGlyphs" fill="#141414" stroke-width="0.191">Time without ps-TNCs (h)</text>
<path d="M261.0,202.9L260.0,208.9M263.4,202.9L262.4,208.9M259.2,204.76000000000002H264.2M259.2,207.04H264.2" stroke="#1a1a1a" stroke-width="0.85" fill="none"/>
<path d="M307.2,191.8L306.2,197.8M309.59999999999997,191.8L308.59999999999997,197.8M305.4,193.66000000000003H310.4M305.4,195.94H310.4" stroke="#1a1a1a" stroke-width="0.85" fill="none"/>
<polygon points="284.60,217.15 285.22,218.70 286.88,218.81 285.60,219.87 286.01,221.49 284.60,220.60 283.19,221.49 283.60,219.87 282.32,218.81 283.98,218.70" fill="#161616"/>
<line x1="400.1" y1="184.3" x2="400.1" y2="294.1" stroke="#a0a0a0" stroke-width="0.9"/>
<line x1="398.5" y1="185.3" x2="400.1" y2="185.3" stroke="#a0a0a0" stroke-width="0.8"/>
<text x="396.3" y="188.9" font-size="10.1" font-weight="bold" text-anchor="end" textLength="13.7" lengthAdjust="spacingAndGlyphs" fill="#141414" stroke-width="0.182">1.8</text>
<line x1="398.5" y1="207.1" x2="400.1" y2="207.1" stroke="#a0a0a0" stroke-width="0.8"/>
<text x="396.3" y="210.7" font-size="10.1" font-weight="bold" text-anchor="end" textLength="13.7" lengthAdjust="spacingAndGlyphs" fill="#141414" stroke-width="0.182">1.6</text>
<line x1="398.5" y1="228.8" x2="400.1" y2="228.8" stroke="#a0a0a0" stroke-width="0.8"/>
<text x="396.3" y="232.4" font-size="10.1" font-weight="bold" text-anchor="end" textLength="13.7" lengthAdjust="spacingAndGlyphs" fill="#141414" stroke-width="0.182">1.4</text>
<line x1="398.5" y1="250.6" x2="400.1" y2="250.6" stroke="#a0a0a0" stroke-width="0.8"/>
<text x="396.3" y="254.2" font-size="10.1" font-weight="bold" text-anchor="end" textLength="13.7" lengthAdjust="spacingAndGlyphs" fill="#141414" stroke-width="0.182">1.2</text>
<line x1="398.5" y1="272.3" x2="400.1" y2="272.3" stroke="#a0a0a0" stroke-width="0.8"/>
<text x="396.3" y="275.90000000000003" font-size="10.1" font-weight="bold" text-anchor="end" textLength="13.7" lengthAdjust="spacingAndGlyphs" fill="#141414" stroke-width="0.182">1.0</text>
<line x1="398.5" y1="294.1" x2="400.1" y2="294.1" stroke="#a0a0a0" stroke-width="0.8"/>
<text x="396.3" y="297.70000000000005" font-size="10.1" font-weight="bold" text-anchor="end" textLength="13.7" lengthAdjust="spacingAndGlyphs" fill="#141414" stroke-width="0.182">0.8</text>
<line x1="400.1" y1="294.1" x2="537.6" y2="294.1" stroke="#a8a8a8" stroke-width="0.9"/>
<line x1="423.3" y1="294.1" x2="423.3" y2="295.70000000000005" stroke="#a0a0a0" stroke-width="0.8"/>
<text x="423.3" y="305.2" font-size="10.4" font-weight="bold" text-anchor="middle" textLength="5.39" lengthAdjust="spacingAndGlyphs" fill="#141414" stroke-width="0.187">0</text>
<line x1="446.1" y1="294.1" x2="446.1" y2="295.70000000000005" stroke="#a0a0a0" stroke-width="0.8"/>
<text x="446.1" y="305.2" font-size="10.4" font-weight="bold" text-anchor="middle" textLength="10.79" lengthAdjust="spacingAndGlyphs" fill="#141414" stroke-width="0.187">12</text>
<line x1="468.9" y1="294.1" x2="468.9" y2="295.70000000000005" stroke="#a0a0a0" stroke-width="0.8"/>
<text x="468.9" y="305.2" font-size="10.4" font-weight="bold" text-anchor="middle" textLength="10.79" lengthAdjust="spacingAndGlyphs" fill="#141414" stroke-width="0.187">24</text>
<line x1="491.8" y1="294.1" x2="491.8" y2="295.70000000000005" stroke="#a0a0a0" stroke-width="0.8"/>
<text x="491.8" y="305.2" font-size="10.4" font-weight="bold" text-anchor="middle" textLength="10.79" lengthAdjust="spacingAndGlyphs" fill="#141414" stroke-width="0.187">48</text>
<line x1="514.5" y1="294.1" x2="514.5" y2="295.70000000000005" stroke="#a0a0a0" stroke-width="0.8"/>
<text x="514.5" y="305.2" font-size="10.4" font-weight="bold" text-anchor="middle" textLength="10.79" lengthAdjust="spacingAndGlyphs" fill="#141414" stroke-width="0.187">72</text>
<path d="M423.3,270.2 L446.1,250.7 L468.9,263.5 L491.8,206.5 L514.5,257.7" fill="none" stroke="#777" stroke-width="0.7"/>
<line x1="423.3" y1="258.4" x2="423.3" y2="282.0" stroke="#222" stroke-width="0.9"/>
<line x1="421.7" y1="258.4" x2="424.90000000000003" y2="258.4" stroke="#222" stroke-width="0.9"/>
<line x1="421.7" y1="282.0" x2="424.90000000000003" y2="282.0" stroke="#222" stroke-width="0.9"/>
<circle cx="423.3" cy="270.2" r="1.2" fill="#111"/>
<line x1="446.1" y1="247.3" x2="446.1" y2="254.0" stroke="#222" stroke-width="0.9"/>
<line x1="444.5" y1="247.3" x2="447.70000000000005" y2="247.3" stroke="#222" stroke-width="0.9"/>
<line x1="444.5" y1="254.0" x2="447.70000000000005" y2="254.0" stroke="#222" stroke-width="0.9"/>
<circle cx="446.1" cy="250.7" r="1.2" fill="#111"/>
<line x1="468.9" y1="260.1" x2="468.9" y2="268.2" stroke="#222" stroke-width="0.9"/>
<line x1="467.29999999999995" y1="260.1" x2="470.5" y2="260.1" stroke="#222" stroke-width="0.9"/>
<line x1="467.29999999999995" y1="268.2" x2="470.5" y2="268.2" stroke="#222" stroke-width="0.9"/>
<circle cx="468.9" cy="263.5" r="1.2" fill="#111"/>
<line x1="491.8" y1="194.7" x2="491.8" y2="217.7" stroke="#222" stroke-width="0.9"/>
<line x1="490.2" y1="194.7" x2="493.40000000000003" y2="194.7" stroke="#222" stroke-width="0.9"/>
<line x1="490.2" y1="217.7" x2="493.40000000000003" y2="217.7" stroke="#222" stroke-width="0.9"/>
<circle cx="491.8" cy="206.5" r="1.2" fill="#111"/>
<line x1="514.5" y1="250.4" x2="514.5" y2="265.0" stroke="#222" stroke-width="0.9"/>
<line x1="512.9" y1="250.4" x2="516.1" y2="250.4" stroke="#222" stroke-width="0.9"/>
<line x1="512.9" y1="265.0" x2="516.1" y2="265.0" stroke="#222" stroke-width="0.9"/>
<circle cx="514.5" cy="257.7" r="1.2" fill="#111"/>
<text x="408.0" y="319.9" font-size="10.6" font-weight="bold" text-anchor="start" textLength="122.79999999999995" lengthAdjust="spacingAndGlyphs" fill="#141414" stroke-width="0.191">Time without ps-TNCs (h)</text>
<polygon points="492.20,187.45 492.82,189.00 494.48,189.11 493.20,190.17 493.61,191.79 492.20,190.90 490.79,191.79 491.20,190.17 489.92,189.11 491.58,189.00" fill="#161616"/>
<text x="188.01" y="174.5" font-size="16.5" font-weight="bold" text-anchor="start" textLength="5.45" lengthAdjust="spacingAndGlyphs" fill="#141414" stroke-width="0.297" style="stroke-width:0.15px">f</text>
<text x="345.63" y="173.9" font-size="17.0" font-weight="bold" text-anchor="start" textLength="10.28" lengthAdjust="spacingAndGlyphs" fill="#141414" stroke-width="0.306" style="stroke-width:0.15px">g</text>
<text transform="translate(181.6,306.5) rotate(-90)" font-size="10.8" font-weight="bold" fill="#141414" stroke-width="0.28" textLength="133" lengthAdjust="spacingAndGlyphs">Relative expression of <tspan font-style="italic">VEGF</tspan></text>
<text transform="translate(193.8,267.6) rotate(-90)" font-size="10.8" font-weight="bold" text-anchor="start" textLength="67.2" lengthAdjust="spacingAndGlyphs" fill="#141414" stroke-width="0.194">compared to 0 h</text>
<text transform="translate(366.9,305.5) rotate(-90)" font-size="10.8" font-weight="bold" fill="#141414" stroke-width="0.28" textLength="133.2" lengthAdjust="spacingAndGlyphs">Relative expression of b<tspan font-style="italic">FGF</tspan></text>
<text transform="translate(377.2,267.7) rotate(-90)" font-size="10.8" font-weight="bold" text-anchor="start" textLength="67.1" lengthAdjust="spacingAndGlyphs" fill="#141414" stroke-width="0.194">compared to 0 h</text>
<text x="535.58" y="179.0" font-size="15.8" font-weight="bold" text-anchor="start" textLength="9.8" lengthAdjust="spacingAndGlyphs" fill="#141414" stroke-width="0.284" style="stroke-width:0.1px">h</text>
<text x="599.0" y="187.1" font-size="8.6" font-weight="bold" text-anchor="start" textLength="41.3" lengthAdjust="spacingAndGlyphs" fill="#141414" stroke-width="0.155">Untreated</text>
<text x="649.5" y="187.1" font-size="8.6" font-weight="bold" text-anchor="start" textLength="37.5" lengthAdjust="spacingAndGlyphs" fill="#141414" stroke-width="0.155">3 μg/mL</text>
<text x="564.4" y="202.1" font-size="8.0" font-weight="bold" text-anchor="middle" textLength="55.0" lengthAdjust="spacingAndGlyphs" fill="#141414" stroke-width="0.144">Angiopoietin-2</text>
<rect x="606.3" y="193.1" width="31.2" height="15.40" fill="#f1f1f1" filter="url(#bl3)"/>
<rect x="651.8" y="193.4" width="31.8" height="15.30" fill="#f3f3f3" filter="url(#bl3)"/>
<circle cx="614.8" cy="201.0" r="3.8" fill="#d2d2d2" filter="url(#bl2)"/>
<circle cx="628.9" cy="201.0" r="3.8" fill="#d2d2d2" filter="url(#bl2)"/>
<circle cx="660.2" cy="201.0" r="3.8" fill="#d2d2d2" filter="url(#bl2)"/>
<circle cx="674.6" cy="201.0" r="3.8" fill="#d2d2d2" filter="url(#bl2)"/>
<text x="564.4" y="221.7" font-size="8.0" font-weight="bold" text-anchor="middle" textLength="29.9" lengthAdjust="spacingAndGlyphs" fill="#141414" stroke-width="0.144">Artemin</text>
<rect x="606.3" y="211.7" width="31.2" height="14.50" fill="#ededed" filter="url(#bl3)"/>
<rect x="651.8" y="211.8" width="31.8" height="15.00" fill="#e8e8e8" filter="url(#bl3)"/>
<circle cx="614.8" cy="219.2" r="3.8" fill="#cbcbcb" filter="url(#bl2)"/>
<circle cx="628.9" cy="219.2" r="3.8" fill="#cbcbcb" filter="url(#bl2)"/>
<circle cx="660.2" cy="219.4" r="3.8" fill="#c6c6c6" filter="url(#bl2)"/>
<circle cx="674.6" cy="219.4" r="3.8" fill="#c6c6c6" filter="url(#bl2)"/>
<text x="564.4" y="239.5" font-size="8.0" font-weight="bold" text-anchor="middle" textLength="13.5" lengthAdjust="spacingAndGlyphs" fill="#141414" stroke-width="0.144">IL-8</text>
<rect x="606.3" y="229.0" width="31.2" height="16.00" fill="#f3f3f3" filter="url(#bl3)"/>
<rect x="651.8" y="229.3" width="31.8" height="16.00" fill="#f3f3f3" filter="url(#bl3)"/>
<circle cx="614.8" cy="237.9" r="3.8" fill="#6a6a6a" filter="url(#bl2)"/>
<circle cx="628.9" cy="237.9" r="3.8" fill="#6a6a6a" filter="url(#bl2)"/>
<circle cx="660.2" cy="237.9" r="3.8" fill="#111" filter="url(#bl2)"/>
<circle cx="674.6" cy="237.9" r="3.8" fill="#1c1c1c" filter="url(#bl2)"/>
<text x="564.4" y="258.40000000000003" font-size="8.0" font-weight="bold" text-anchor="middle" textLength="24.2" lengthAdjust="spacingAndGlyphs" fill="#141414" stroke-width="0.144">MCP-1</text>
<rect x="606.3" y="248.6" width="31.2" height="15.20" fill="#f4f4f4" filter="url(#bl3)"/>
<rect x="651.8" y="249.0" width="31.8" height="15.30" fill="#f3f3f3" filter="url(#bl3)"/>
<circle cx="614.8" cy="256.4" r="3.8" fill="#7c7c7c" filter="url(#bl2)"/>
<circle cx="628.9" cy="256.4" r="3.8" fill="#7c7c7c" filter="url(#bl2)"/>
<circle cx="660.2" cy="256.6" r="3.8" fill="#646464" filter="url(#bl2)"/>
<circle cx="674.6" cy="256.6" r="3.8" fill="#646464" filter="url(#bl2)"/>
<text x="564.4" y="277.3" font-size="8.0" font-weight="bold" text-anchor="middle" textLength="38.9" lengthAdjust="spacingAndGlyphs" fill="#141414" stroke-width="0.144">Pentraxin3</text>
<rect x="606.3" y="267.7" width="31.2" height="15.10" fill="#f6f6f6" filter="url(#bl3)"/>
<rect x="651.8" y="268.0" width="31.8" height="15.40" fill="#f6f6f6" filter="url(#bl3)"/>
<circle cx="614.8" cy="275.8" r="3.8" fill="#707070" filter="url(#bl2)"/>
<circle cx="628.9" cy="275.8" r="3.8" fill="#727272" filter="url(#bl2)"/>
<circle cx="660.2" cy="276.0" r="3.8" fill="#101010" filter="url(#bl2)"/>
<circle cx="674.6" cy="276.0" r="3.8" fill="#4c4c4c" filter="url(#bl2)"/>
<text x="564.4" y="295.6" font-size="8.0" font-weight="bold" text-anchor="middle" textLength="16.9" lengthAdjust="spacingAndGlyphs" fill="#141414" stroke-width="0.144">PIGF</text>
<rect x="606.3" y="285.9" width="31.2" height="15.70" fill="#ebebeb" filter="url(#bl3)"/>
<rect x="651.8" y="287.7" width="31.8" height="15.20" fill="#ebebeb" filter="url(#bl3)"/>
<circle cx="614.8" cy="293.8" r="3.8" fill="#e2e2e2" filter="url(#bl2)"/>
<circle cx="628.9" cy="293.8" r="3.8" fill="#e2e2e2" filter="url(#bl2)"/>
<circle cx="660.2" cy="294.6" r="3.8" fill="#e0e0e0" filter="url(#bl2)"/>
<circle cx="674.6" cy="294.6" r="3.8" fill="#e0e0e0" filter="url(#bl2)"/>
</g></svg></body></html>
